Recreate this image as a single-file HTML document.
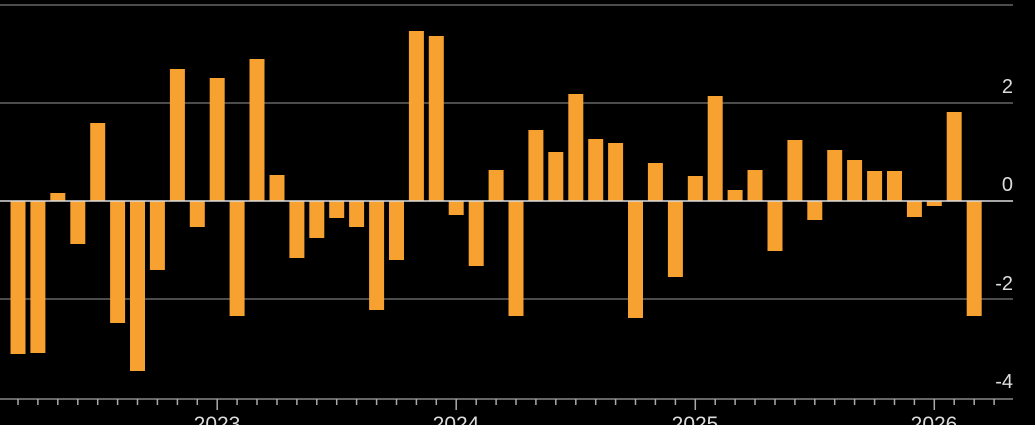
<!DOCTYPE html>
<html><head><style>html,body{margin:0;padding:0;background:#000;overflow:hidden}</style></head>
<body>
<svg width="1035" height="425" xmlns="http://www.w3.org/2000/svg" style="display:block;background:#000">
<g stroke="#666" stroke-width="1.5">
<line x1="0" y1="5" x2="1013" y2="5"/>
<line x1="0" y1="103" x2="1013" y2="103"/>
<line x1="0" y1="299" x2="1013" y2="299"/>
</g>
<g font-family="Liberation Sans, sans-serif" font-size="20" fill="#ddd" text-anchor="end">
<text x="1013" y="93">2</text>
<text x="1013" y="191">0</text>
<text x="1013" y="290">-2</text>
<text x="1013" y="388">-4</text>
</g>
<g fill="#F7A130">
<rect x="10.5" y="201" width="15" height="153"/>
<rect x="30.4" y="201" width="15" height="152"/>
<rect x="50.3" y="193" width="15" height="8"/>
<rect x="70.3" y="201" width="15" height="43"/>
<rect x="90.2" y="123" width="15" height="78"/>
<rect x="110.1" y="201" width="15" height="122"/>
<rect x="130.0" y="201" width="15" height="170"/>
<rect x="149.9" y="201" width="15" height="69"/>
<rect x="169.9" y="69" width="15" height="132"/>
<rect x="189.8" y="201" width="15" height="26"/>
<rect x="209.7" y="78" width="15" height="123"/>
<rect x="229.6" y="201" width="15" height="115"/>
<rect x="249.5" y="59" width="15" height="142"/>
<rect x="269.5" y="175" width="15" height="26"/>
<rect x="289.4" y="201" width="15" height="57"/>
<rect x="309.3" y="201" width="15" height="37"/>
<rect x="329.2" y="201" width="15" height="17"/>
<rect x="349.1" y="201" width="15" height="26"/>
<rect x="369.1" y="201" width="15" height="109"/>
<rect x="389.0" y="201" width="15" height="59"/>
<rect x="408.9" y="31" width="15" height="170"/>
<rect x="428.8" y="36" width="15" height="165"/>
<rect x="448.7" y="201" width="15" height="14"/>
<rect x="468.7" y="201" width="15" height="65"/>
<rect x="488.6" y="170" width="15" height="31"/>
<rect x="508.5" y="201" width="15" height="115"/>
<rect x="528.4" y="130" width="15" height="71"/>
<rect x="548.3" y="152" width="15" height="49"/>
<rect x="568.3" y="94" width="15" height="107"/>
<rect x="588.2" y="139" width="15" height="62"/>
<rect x="608.1" y="143" width="15" height="58"/>
<rect x="628.0" y="201" width="15" height="117"/>
<rect x="647.9" y="163" width="15" height="38"/>
<rect x="667.9" y="201" width="15" height="76"/>
<rect x="687.8" y="176" width="15" height="25"/>
<rect x="707.7" y="96" width="15" height="105"/>
<rect x="727.6" y="190" width="15" height="11"/>
<rect x="747.5" y="170" width="15" height="31"/>
<rect x="767.5" y="201" width="15" height="50"/>
<rect x="787.4" y="140" width="15" height="61"/>
<rect x="807.3" y="201" width="15" height="19"/>
<rect x="827.2" y="150" width="15" height="51"/>
<rect x="847.1" y="160" width="15" height="41"/>
<rect x="867.1" y="171" width="15" height="30"/>
<rect x="887.0" y="171" width="15" height="30"/>
<rect x="906.9" y="201" width="15" height="16"/>
<rect x="926.8" y="201" width="15" height="5"/>
<rect x="946.7" y="112" width="15" height="89"/>
<rect x="966.7" y="201" width="15" height="115"/>
</g>
<line x1="0" y1="201" x2="1013" y2="201" stroke="#ddd" stroke-width="1.5"/>
<line x1="0" y1="399" x2="1013" y2="399" stroke="#888" stroke-width="1.5"/>
<path stroke="#aaa" stroke-width="1.5" fill="none" d="M18,399v6M37.9,399v6M57.8,399v6M77.8,399v6M97.7,399v6M117.6,399v6M137.5,399v6M157.4,399v6M177.4,399v6M197.3,399v6M217.2,399v11M237.1,399v6M257,399v6M277,399v6M296.9,399v6M316.8,399v6M336.7,399v6M356.6,399v6M376.6,399v6M396.5,399v6M416.4,399v6M436.3,399v6M456.2,399v11M476.2,399v6M496.1,399v6M516,399v6M535.9,399v6M555.8,399v6M575.8,399v6M595.7,399v6M615.6,399v6M635.5,399v6M655.4,399v6M675.4,399v6M695.3,399v11M715.2,399v6M735.1,399v6M755,399v6M775,399v6M794.9,399v6M814.8,399v6M834.7,399v6M854.6,399v6M874.6,399v6M894.5,399v6M914.4,399v6M934.3,399v11M954.2,399v6M974.2,399v6M994.1,399v6"/>
<g font-family="Liberation Sans, sans-serif" font-size="21" fill="#ddd" text-anchor="middle">
<text x="217" y="431">2023</text>
<text x="456" y="431">2024</text>
<text x="695" y="431">2025</text>
<text x="934" y="431">2026</text>
</g>
</svg>
</body></html>
